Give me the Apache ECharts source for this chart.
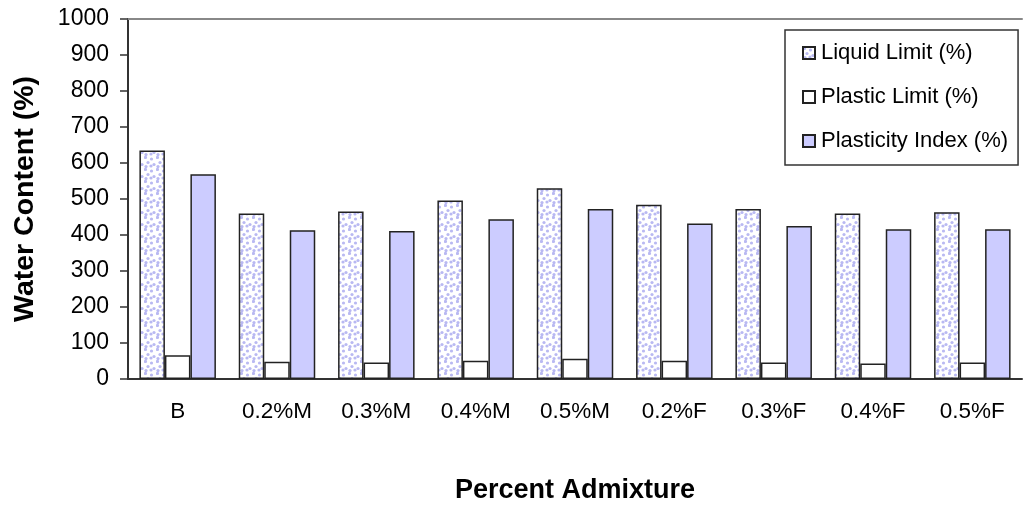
<!DOCTYPE html>
<html>
<head>
<meta charset="utf-8">
<title>Water Content vs Percent Admixture</title>
<script src="https://cdn.jsdelivr.net/npm/echarts@6/dist/echarts.min.js"></script>
<style>
  html, body { margin: 0; padding: 0; background: #fff; }
  #chart { width: 1025px; height: 509px; }
</style>
</head>
<body>
<div id="chart"></div>
<script>
// Atterberg limits for each admixture dosage
const categories = ['B', '0.2%M', '0.3%M', '0.4%M', '0.5%M', '0.2%F', '0.3%F', '0.4%F', '0.5%F'];
const liquidLimit = [635, 460, 465, 496, 530, 484, 472, 460, 463];
const plasticLimit = [66, 48, 46, 51, 56, 51, 46, 43, 46];
const plasticityIndex = [569, 413, 411, 444, 472, 432, 425, 416, 416];
const yTicks = [0, 100, 200, 300, 400, 500, 600, 700, 800, 900, 1000];

// Stippled fill used for the liquid limit bars: fixed dot layout on a small tile
function makeDotTile() {
  const c = document.createElement('canvas');
  c.width = 12; c.height = 12;
  const ctx = c.getContext('2d');
  ctx.fillStyle = '#ffffff';
  ctx.fillRect(0, 0, 12, 12);
  ctx.fillStyle = '#b9b9f2';
  const dots = [[1.5, 1.5], [7.5, 3], [4, 6.5], [10, 8.5], [2, 10.5], [7, 10]];
  dots.forEach(function (d) {
    ctx.beginPath();
    ctx.arc(d[0], d[1], 1.6, 0, Math.PI * 2);
    ctx.fill();
  });
  return c;
}
const dotFill = { image: makeDotTile(), repeat: 'repeat' };

const font = 'Liberation Sans, Arial, sans-serif';
const barBorder = { borderColor: '#222', borderWidth: 1.5 };

const chart = echarts.init(document.getElementById('chart'), null, { renderer: 'canvas' });
chart.setOption({
  animation: false,
  backgroundColor: '#ffffff',
  textStyle: { fontFamily: font, color: '#000' },
  grid: { left: 128, right: 3, top: 19, bottom: 130, containLabel: false },
  legend: {
    orient: 'vertical',
    left: 785,
    top: 30,
    padding: [12, 10, 13, 17],
    itemGap: 22,
    itemWidth: 12,
    itemHeight: 12,
    icon: 'rect',
    borderColor: '#333',
    borderWidth: 1.5,
    backgroundColor: '#fff',
    textStyle: { fontFamily: font, fontSize: 22, color: '#000', padding: [0, 0, 0, 1] },
    data: ['Liquid Limit (%)', 'Plastic Limit (%)', 'Plasticity Index (%)']
  },
  xAxis: [
    {
      type: 'category',
      data: categories,
      position: 'bottom',
      name: 'Percent Admixture',
      nameLocation: 'middle',
      nameGap: 98,
      nameTextStyle: { fontFamily: font, fontSize: 27, fontWeight: 'bold', color: '#000' },
      axisLine: { show: true, lineStyle: { color: '#333', width: 2 } },
      axisTick: { show: false },
      axisLabel: { fontFamily: font, fontSize: 22.5, color: '#000', margin: 21 },
      splitLine: { show: false }
    },
    {
      // thin frame line along the top of the plot
      type: 'category',
      data: categories,
      position: 'top',
      axisLine: { show: true, lineStyle: { color: '#888', width: 2 } },
      axisTick: { show: false },
      axisLabel: { show: false },
      splitLine: { show: false }
    }
  ],
  yAxis: {
    type: 'value',
    min: yTicks[0],
    max: yTicks[yTicks.length - 1],
    interval: 100,
    name: 'Water Content (%)',
    nameLocation: 'middle',
    nameRotate: 90,
    nameGap: 88,
    nameTextStyle: { fontFamily: font, fontSize: 28.5, fontWeight: 'bold', color: '#000' },
    axisLine: { show: true, lineStyle: { color: '#333', width: 2 } },
    axisTick: { show: true, length: 8, inside: false, lineStyle: { color: '#333', width: 1.5 } },
    axisLabel: { fontFamily: font, fontSize: 23, color: '#000', margin: 19, formatter: function (v) { return String(v); } },
    splitLine: { show: false }
  },
  series: [
    {
      name: 'Liquid Limit (%)',
      type: 'bar',
      data: liquidLimit,
      barWidth: 25.5,
      barGap: '0%',
      itemStyle: Object.assign({ color: dotFill }, barBorder)
    },
    {
      name: 'Plastic Limit (%)',
      type: 'bar',
      data: plasticLimit,
      barWidth: 25.5,
      barGap: '0%',
      itemStyle: Object.assign({ color: '#ffffff' }, barBorder)
    },
    {
      name: 'Plasticity Index (%)',
      type: 'bar',
      data: plasticityIndex,
      barWidth: 25.5,
      barGap: '0%',
      itemStyle: Object.assign({ color: '#ccccff' }, barBorder)
    }
  ]
});
</script>
</body>
</html>
